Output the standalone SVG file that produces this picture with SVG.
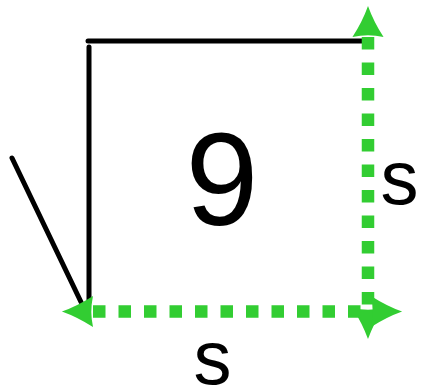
<svg xmlns="http://www.w3.org/2000/svg" width="421" height="388" viewBox="0 0 421 388">
  <style>
    .blk { stroke: #000; stroke-width: 5; stroke-linecap: round; fill: none; }
    .dim { stroke: #32cd32; stroke-width: 12.5; stroke-dasharray: 12.5 13; fill: none; }
    .lbl { font-family: "Liberation Sans", Arial, sans-serif; fill: #000; text-anchor: middle; }
  </style>
  <defs>
    <marker id="ah" markerUnits="userSpaceOnUse" markerWidth="40" markerHeight="40" viewBox="-4 -16 36 32" refX="0" refY="0" orient="auto-start-reverse" overflow="visible">
      <path d="M0,-14 Q14,-5 28,0 Q14,5 0,14 Q3,0 0,-14 Z" fill="#32cd32"/>
    </marker>
  </defs>
  <g id="radical">
    <line class="blk" x1="88" y1="41" x2="362" y2="41"/>
    <line class="blk" x1="89" y1="47" x2="89" y2="302"/>
    <line class="blk" x1="12" y1="158" x2="81" y2="302"/>
  </g>
  <g id="connectors">
    <path class="dim" d="M368,37 L368,308" marker-start="url(#ah)" marker-end="url(#ah)"/>
    <path class="dim" d="M93,311.5 L371,311.5" marker-start="url(#ah)" marker-end="url(#ah)"/>
  </g>
  <g id="label-9"><text class="lbl" x="222" y="225" font-size="131">9</text></g>
  <g id="label-s-right"><text class="lbl" x="399.5" y="204" font-size="76">s</text></g>
  <g id="label-s-bottom"><text class="lbl" x="212.5" y="384" font-size="76">s</text></g>
</svg>
